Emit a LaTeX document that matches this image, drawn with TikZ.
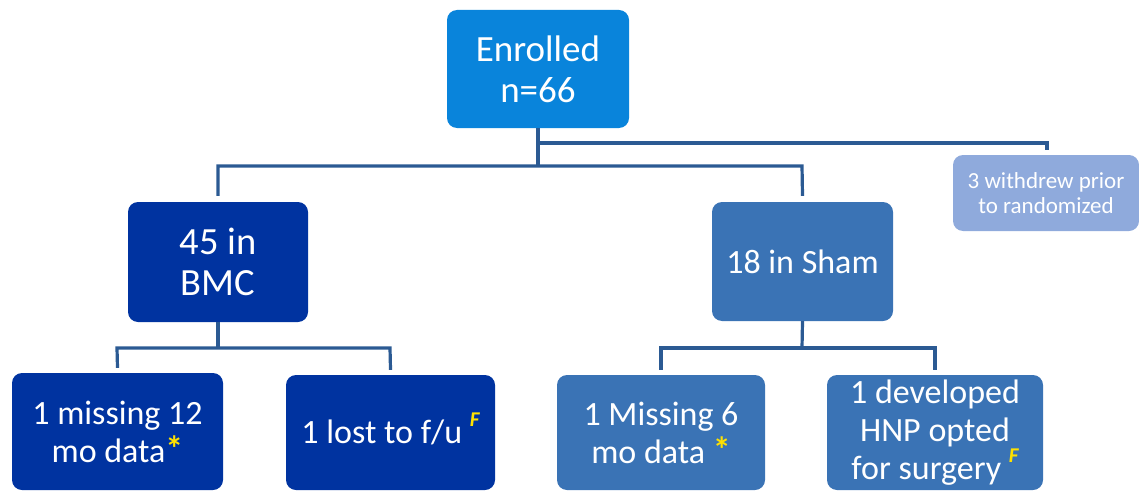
\documentclass[tikz,border=0pt]{standalone}
\usepackage{fontspec}
\setmainfont{Carlito}
\definecolor{enrollc}{RGB}{9,132,219}
\definecolor{bmcc}{RGB}{0,51,160}
\definecolor{shamc}{RGB}{58,115,181}
\definecolor{withc}{RGB}{143,170,220}
\definecolor{linec}{RGB}{43,90,147}
\definecolor{marky}{RGB}{255,225,0}
\newcommand{\fmark}{\textcolor{marky}{\smash{\raisebox{0.5em}{\fontsize{21}{21}\selectfont\bfseries\itshape F}}}}
\newcommand{\smark}{\textcolor{marky}{\smash{\raisebox{0.02em}{\fontsize{36}{36}\selectfont\bfseries *}}}}
\begin{document}
\begin{tikzpicture}[x=1pt,y=-1pt,
  box/.style={rounded corners=10pt, text=white, align=center, inner sep=0pt, anchor=center},
  conn/.style={draw=linec, line width=3.2pt}]
\useasboundingbox (0,0) rectangle (1139,492);
% boxes
\node[box, fill=enrollc, minimum width=182pt, minimum height=118pt, font=\fontsize{37}{41}\selectfont] (enr) at (538,69) {Enrolled\\n=66};
\node[box, fill=bmcc, minimum width=180pt, minimum height=120pt, font=\fontsize{38.5}{41}\selectfont] (bmc) at (218,262) {45 in\\BMC};
\node[box, fill=shamc, minimum width=181pt, minimum height=119pt, font=\fontsize{34}{38}\selectfont] (sham) at (802.5,261.5) {18 in Sham};
\node[box, fill=withc, minimum width=186pt, minimum height=76pt, font=\fontsize{23}{25}\selectfont] (wd) at (1046,193) {3 withdrew prior\\to randomized};
\node[box, fill=bmcc, minimum width=211pt, minimum height=117pt, font=\fontsize{34}{38}\selectfont] (c1) at (117.5,431.5) {1 missing 12\\mo data\smark};
\node[box, fill=bmcc, minimum width=209pt, minimum height=115pt, font=\fontsize{34}{38}\selectfont] (c2) at (390.5,432.5) {1 lost to f/u \fmark};
\node[box, fill=shamc, minimum width=208pt, minimum height=115pt, font=\fontsize{34}{38}\selectfont] (c3) at (661,432.5) {1 Missing 6\\mo data \smark};
\node[box, fill=shamc, minimum width=216pt, minimum height=115pt, font=\fontsize{34}{38}\selectfont] (c4) at (935,432.5) {1 developed\\HNP opted\\for surgery \fmark};
% connectors
\coordinate (j1) at (538,166);
\coordinate (j2) at (538,143);
\coordinate (wtop) at (1047,150);
\draw[conn] (enr.south) -- (j1);
\draw[conn] ([yshift=6pt]bmc.north) -- (218,166) -- (802,166) -- ([yshift=6pt]sham.north);
\draw[conn] (j2) -| (wtop);
\draw[conn] (bmc.south) -- (218,348);
\draw[conn] ([yshift=5pt]c1.north) -- (117,348) -- (390,348) -- ([yshift=5pt]c2.north);
\draw[conn] (sham.south) -- (802,348);
\draw[conn] ([yshift=5pt]c3.north) -- (661,348) -- (935,348) -- ([yshift=5pt]c4.north);
\end{tikzpicture}
\end{document}
